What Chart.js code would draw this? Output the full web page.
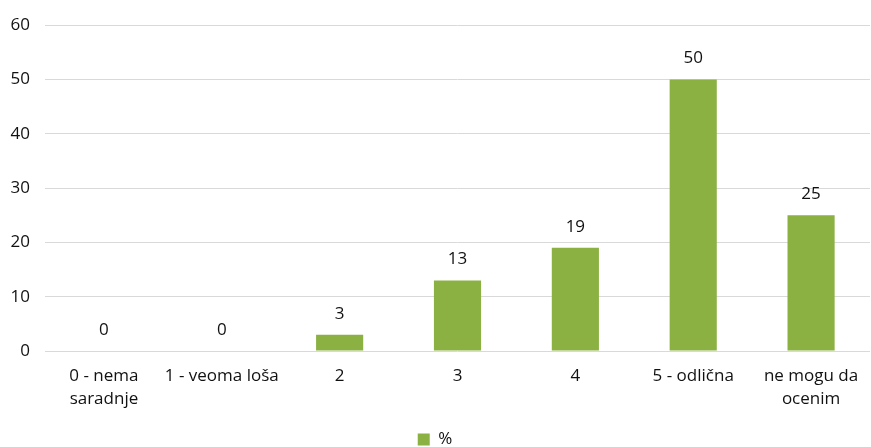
<!DOCTYPE html>
<html>
<head>
<meta charset="utf-8">
<script src="https://cdn.jsdelivr.net/npm/chart.js@4/dist/chart.umd.min.js"></script>
<style>
  html, body { margin: 0; padding: 0; background: #fff; }
  #wrap { width: 871px; height: 447px; position: relative; }
</style>
</head>
<body>
<div id="wrap"><canvas id="ocenaChart"></canvas></div>
<script>
const categories = [
    ['0 - nema', 'saradnje'],
    '1 - veoma loša',
    '2',
    '3',
    '4',
    '5 - odlična',
    ['ne mogu da', 'ocenim']
];
const percentValues = [0, 0, 3, 13, 19, 50, 25];
const seriesLabel = '%';
const yTicks = { min: 0, max: 60, step: 10 };

const barColor = '#8BB143';
const textColor = '#111111';
const fontFamily = '"Open Sans", "Noto Sans", sans-serif';
const fontSize = 17;

// iznad svakog stubića crta vrednost
const valueLabels = {
    id: 'valueLabels',
    afterDatasetsDraw(chart) {
        const { ctx } = chart;
        const meta = chart.getDatasetMeta(0);
        ctx.save();
        ctx.font = fontSize + 'px ' + fontFamily;
        ctx.fillStyle = textColor;
        ctx.textAlign = 'center';
        ctx.textBaseline = 'middle';
        meta.data.forEach((bar, i) => {
            ctx.fillText(String(chart.data.datasets[0].data[i]), bar.x, bar.y - 21);
        });
        ctx.restore();
    }
};

const ctx = document.getElementById('ocenaChart').getContext('2d');
new Chart(ctx, {
    type: 'bar',
    data: {
        labels: categories,
        datasets: [{
            label: seriesLabel,
            data: percentValues,
            backgroundColor: barColor,
            borderWidth: 0,
            barPercentage: 0.8,
            categoryPercentage: 0.5
        }]
    },
    options: {
        responsive: true,
        maintainAspectRatio: false,
        animation: false,
        layout: { padding: { top: 13, right: 1, left: 0, bottom: -11 } },
        scales: {
            x: {
                grid: { display: false },
                border: { display: false },
                ticks: {
                    color: textColor,
                    font: { size: fontSize, family: fontFamily, lineHeight: 1.35 },
                    maxRotation: 0,
                    autoSkip: false,
                    padding: 6
                },
                afterFit(scale) { scale.height = 78; }
            },
            y: {
                min: yTicks.min,
                max: yTicks.max,
                grid: { color: '#d9d9d9', lineWidth: 1, drawTicks: false },
                border: { display: false },
                ticks: {
                    stepSize: yTicks.step,
                    color: textColor,
                    font: { size: fontSize, family: fontFamily },
                    padding: 15
                },
                afterFit(scale) { scale.width = 45; }
            }
        },
        plugins: {
            legend: {
                position: 'bottom',
                labels: {
                    color: textColor,
                    font: { size: fontSize, family: fontFamily },
                    boxWidth: 12,
                    boxHeight: 12,
                    padding: 2
                }
            },
            tooltip: { enabled: false }
        }
    },
    plugins: [valueLabels]
});
</script>
</body>
</html>
